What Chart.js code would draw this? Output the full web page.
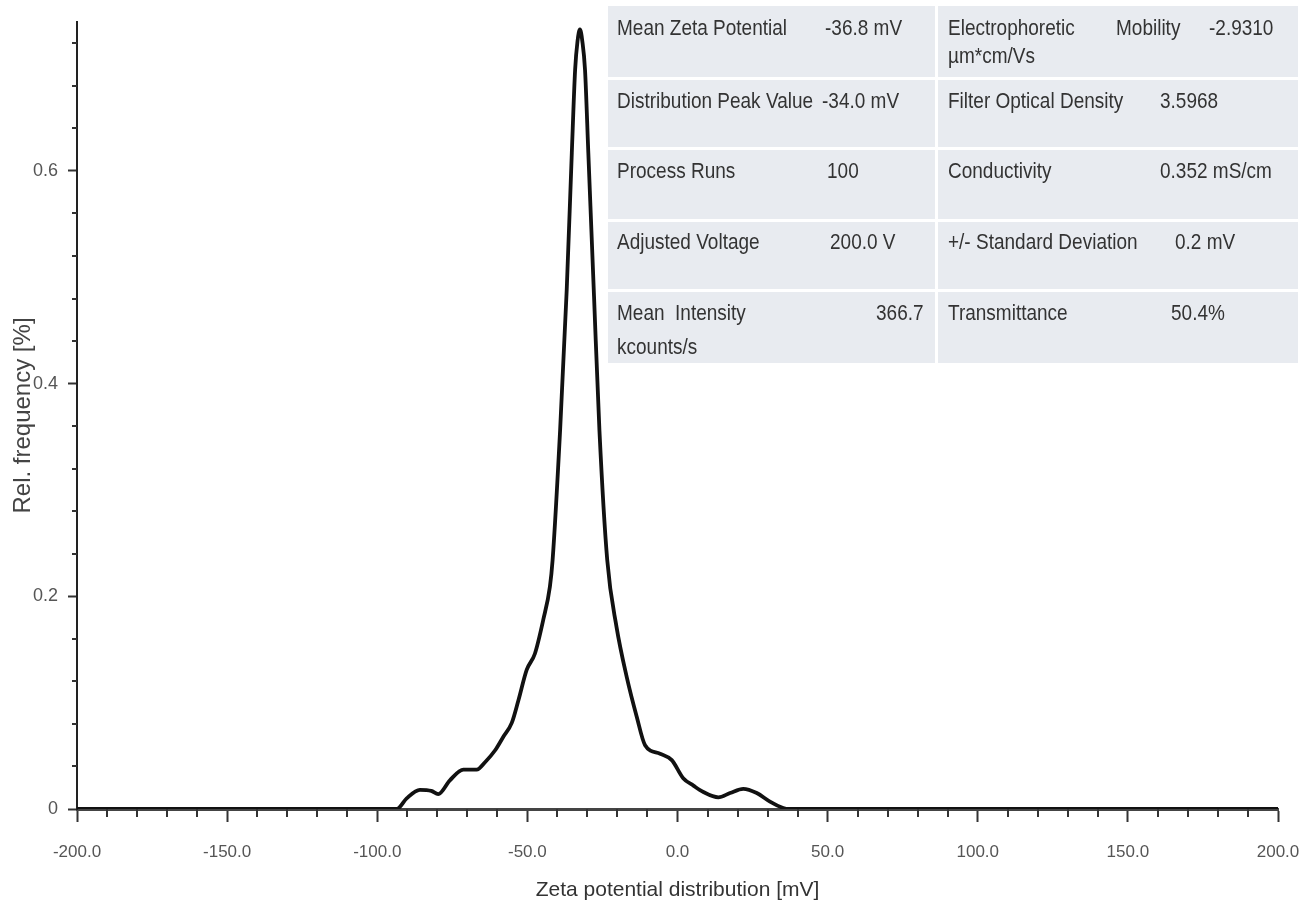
<!DOCTYPE html>
<html>
<head>
<meta charset="utf-8">
<script src="https://cdn.jsdelivr.net/npm/chart.js@4.4.1/dist/chart.umd.min.js"></script>
<style>
  body { margin: 0; background: #fff; }
  #wrap { position: relative; width: 1301px; height: 909px; }
  #zeta { position: absolute; left: 0; top: 0; }
  .cell { position: absolute; background: #e8ebf0; }
  .t { position: absolute; font-family: 'Liberation Sans', sans-serif; font-size: 19px; color: #333;
       white-space: pre; line-height: 1; transform-origin: left center;
       transform: translateY(-50%) scaleY(1.15); }
</style>
</head>
<body>
<div id="wrap">
  <canvas id="zeta" width="1301" height="909"></canvas>
</div>
<script>
// zeta potential distribution
var zetaMv = [-200, -93.5, -90.2, -85.8, -82, -79.7, -75.8, -71.3, -66.9, -64.1, -60.8, -58.0, -55.2, -53.0,
  -50.2, -47.5, -44.7, -42.5, -41.6, -39.1, -36.9, -35.2, -34.1, -33.3, -32.5, -31.7, -30.8, -29.7, -27.8,
  -26.0, -23.4, -20.3, -16.9, -13.6, -10.8, -5.8, -1.9, 1.9, 5.3, 8.6, 13.6, 17.5, 21.9, 26.4, 30.8, 35.2, 37, 200];
var relFreq = [0, 0, 0.010, 0.018, 0.017, 0.014, 0.027, 0.037, 0.037, 0.044, 0.055, 0.068, 0.081, 0.102,
  0.131, 0.146, 0.178, 0.209, 0.234, 0.356, 0.488, 0.617, 0.695, 0.722, 0.733, 0.722, 0.695, 0.617, 0.482,
  0.356, 0.234, 0.171, 0.124, 0.087, 0.060, 0.052, 0.046, 0.029, 0.022, 0.016, 0.011, 0.015, 0.019, 0.015, 0.007, 0.001, 0, 0];

var xTicks = [-200, -150, -100, -50, 0, 50, 100, 150, 200];
var yTicks = [0, 0.2, 0.4, 0.6];

// measurement summary box
var leftNames = ['Mean Zeta Potential', 'Distribution Peak Value', 'Process Runs', 'Adjusted Voltage', 'Mean  Intensity'];
var leftValues = ['-36.8 mV', '-34.0 mV', '100', '200.0 V', '366.7'];
var rightNames = ['Electrophoretic', 'Filter Optical Density', 'Conductivity', '+/- Standard Deviation', 'Transmittance'];
var rightValues = ['-2.9310', '3.5968', '0.352 mS/cm', '0.2 mV', '50.4%'];

// box layout
var rowTops = [6, 80, 150, 222, 292];
var rowBottoms = [77, 147, 219, 289, 363];
var rowText = [28, 101, 171, 242, 313];
var leftValueX = [825, 822, 827, 830, 876];
var rightValueX = [1209, 1160, 1160, 1175, 1171];

var wrap = document.getElementById('wrap');
function addDiv(cls, css, text) {
  var d = document.createElement('div');
  d.className = cls;
  d.style.cssText = css;
  if (text) d.textContent = text;
  wrap.appendChild(d);
}
for (var i = 0; i < rowTops.length; i++) {
  var h = rowBottoms[i] - rowTops[i];
  addDiv('cell', 'left:608px;top:' + rowTops[i] + 'px;width:327px;height:' + h + 'px');
  addDiv('cell', 'left:938px;top:' + rowTops[i] + 'px;width:360px;height:' + h + 'px');
  addDiv('t', 'left:617px;top:' + rowText[i] + 'px', leftNames[i]);
  addDiv('t', 'left:' + leftValueX[i] + 'px;top:' + rowText[i] + 'px', leftValues[i]);
  addDiv('t', 'left:948px;top:' + rowText[i] + 'px', rightNames[i]);
  addDiv('t', 'left:' + rightValueX[i] + 'px;top:' + rowText[i] + 'px', rightValues[i]);
}
addDiv('t', 'left:1116px;top:28px', 'Mobility');
addDiv('t', 'left:948px;top:56px', 'µm*cm/Vs');
addDiv('t', 'left:617px;top:347px', 'kcounts/s');

var sans = "'Liberation Sans', sans-serif";

// short in-between ticks
var minorTicks = {
  id: 'minorTicks',
  afterDraw: function(chart) {
    var ctx = chart.ctx, x = chart.scales.x, y = chart.scales.y;
    var bottom = chart.chartArea.bottom, left = chart.chartArea.left;
    ctx.save();
    ctx.strokeStyle = '#333';
    ctx.lineWidth = 2;
    ctx.beginPath();
    for (var v = -190; v < 200; v += 10) {
      if (v % 50 === 0) continue;
      var px = Math.round(x.getPixelForValue(v));
      ctx.moveTo(px, bottom);
      ctx.lineTo(px, bottom + 8);
    }
    for (var k = 1; k <= 18; k++) {
      if (k % 5 === 0) continue;
      var py = Math.round(y.getPixelForValue(k * 0.04));
      ctx.moveTo(left, py);
      ctx.lineTo(left - 5, py);
    }
    ctx.stroke();
    ctx.restore();
  }
};

new Chart(document.getElementById('zeta'), {
  type: 'line',
  data: {
    datasets: [{
      data: zetaMv.map(function(v, i) { return { x: v, y: relFreq[i] }; }),
      borderColor: '#111',
      borderWidth: 3.8,
      pointRadius: 0,
      fill: false,
      cubicInterpolationMode: 'monotone'
    }]
  },
  options: {
    responsive: false,
    animation: false,
    layout: { padding: { top: 22, right: 23, left: 0, bottom: 0 } },
    plugins: { legend: { display: false }, tooltip: { enabled: false } },
    scales: {
      x: {
        type: 'linear',
        min: -200,
        max: 200,
        afterBuildTicks: function(s) { s.ticks = xTicks.map(function(v) { return { value: v }; }); },
        afterFit: function(s) { s.height = 100; s.paddingLeft = 0; s.paddingRight = 0; },
        grid: { drawOnChartArea: false, tickLength: 13, tickWidth: 2, tickColor: '#333' },
        border: { color: '#444', width: 3 },
        ticks: {
          maxRotation: 0,
          padding: 20,
          color: '#555',
          font: { family: sans, size: 17 },
          callback: function(v) { return v.toFixed(1); }
        },
        title: {
          display: true,
          text: 'Zeta potential distribution [mV]',
          color: '#333',
          font: { family: sans, size: 21 },
          padding: { top: 0, bottom: 6 }
        }
      },
      y: {
        min: 0,
        max: 0.74,
        afterBuildTicks: function(s) { s.ticks = yTicks.map(function(v) { return { value: v }; }); },
        afterFit: function(s) { s.width = 77; s.paddingTop = 0; s.paddingBottom = 0; },
        grid: { drawOnChartArea: false, tickLength: 9, tickWidth: 2, tickColor: '#333' },
        border: { color: '#222', width: 2 },
        ticks: {
          padding: 10,
          color: '#555',
          font: { family: sans, size: 18 },
          callback: function(v) { return v === 0 ? '0' : v.toFixed(1); }
        },
        title: {
          display: true,
          text: 'Rel. frequency [%]',
          color: '#444',
          font: { family: sans, size: 24 },
          padding: { top: 9, bottom: 0 }
        }
      }
    }
  },
  plugins: [minorTicks]
});
</script>
</body>
</html>
